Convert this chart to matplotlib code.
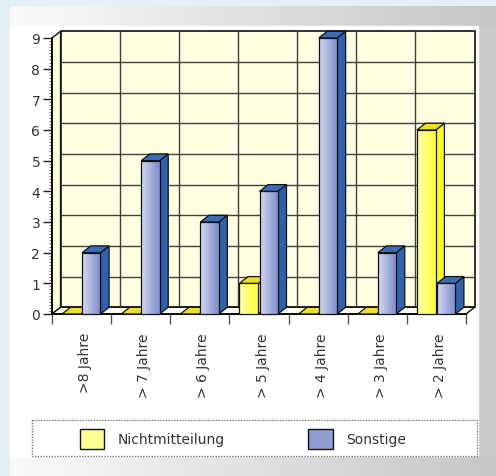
import matplotlib
matplotlib.use("Agg")
import matplotlib.pyplot as plt
import numpy as np
from matplotlib.patches import Polygon, Rectangle, Patch
from matplotlib.ticker import MultipleLocator, FixedLocator

categories = ['>8 Jahre', '> 7 Jahre', '> 6 Jahre', '> 5 Jahre',
              '> 4 Jahre', '> 3 Jahre', '> 2 Jahre']
nichtmitteilung = [0, 0, 0, 1, 0, 0, 6]
sonstige = [2, 5, 3, 4, 9, 2, 1]
series_names = ['Nichtmitteilung', 'Sonstige']

W, H = 496, 477
fig = plt.figure(figsize=(W / 100, H / 100), dpi=100)
fig.patch.set_facecolor('#e3f1f6')

# decorative background in pixel coords
bg = fig.add_axes([0, 0, 1, 1], zorder=-5)
bg.axis('off')
grad = np.linspace(0, 1, 256)[None, :]
gray_cmap = matplotlib.colors.LinearSegmentedColormap.from_list('g', ['#fafafa', '#c6c6c6'])
bg.imshow(grad, cmap=gray_cmap, extent=[10, W, 27, 7], aspect='auto', zorder=1)
bg.imshow(grad, cmap=gray_cmap, extent=[10, W, H, 457], aspect='auto', zorder=1)
bg.add_patch(Rectangle((478, 27), W - 478, 430, color='#cacaca', zorder=2))
bg.add_patch(Rectangle((10, 27), 468, 430, color='white', zorder=2))
bg.add_patch(Rectangle((32, 421), 445, 36, facecolor='white', edgecolor='#7a7a7a',
                       lw=1, ls=(0, (1, 1)), zorder=3))
bg.set_xlim(0, W)
bg.set_ylim(H, 0)

# main plot axes (front plane)
ax = fig.add_axes([52 / W, (H - 315) / H, 414 / W, 276 / H])
n = len(categories)
ymax = 9
ax.set_xlim(0, n)
ax.set_ylim(0, ymax)
ax.patch.set_visible(False)
for s in ['top', 'right']:
    ax.spines[s].set_visible(False)
ax.spines['left'].set_linewidth(1.2)
ax.spines['bottom'].set_linewidth(1.2)

dx, dy = 0.145, 0.22
wall = '#ffffe2'
edge = '#111111'

# left wall, back wall, floor
ax.add_patch(Polygon([(0, 0), (dx, dy), (dx, ymax + dy), (0, ymax)],
                     facecolor='#fdfdd8', edgecolor=edge, lw=1, clip_on=False, zorder=1))
ax.add_patch(Rectangle((dx, dy), n, ymax, facecolor=wall, edgecolor=edge,
                       lw=1.2, clip_on=False, zorder=1))
for k in range(1, ymax):
    ax.plot([dx, n + dx], [k + dy, k + dy], color='#404040', lw=1, zorder=1.5, clip_on=False)
for i in range(1, n):
    ax.plot([i + dx, i + dx], [dy, ymax + dy], color='#404040', lw=1, zorder=1.5, clip_on=False)
ax.add_patch(Polygon([(0, 0), (n, 0), (n + dx, dy), (dx, dy)],
                     facecolor='#fffff2', edgecolor=edge, lw=1, clip_on=False, zorder=2))

blue_front = matplotlib.colors.LinearSegmentedColormap.from_list(
    'b', ['#d4daf0', '#a8b2de', '#7d8cc9'])
yellow_front = matplotlib.colors.LinearSegmentedColormap.from_list(
    'y', ['#ffffb0', '#ffff70', '#ffff30'])
styles = [
    dict(x0=0.17, w=0.32, cmap=yellow_front, side='#ffff10', top='#eee020'),
    dict(x0=0.51, w=0.31, cmap=blue_front, side='#2f62ad', top='#3b6cb8'),
]

z = 3
for i in range(n):
    for vals, st in zip([nichtmitteilung, sonstige], styles):
        h = vals[i]
        x0 = i + st['x0']
        x1 = x0 + st['w']
        if h > 0:
            ax.add_patch(Polygon([(x1, 0), (x1 + dx, dy), (x1 + dx, h + dy), (x1, h)],
                                 facecolor=st['side'], edgecolor=edge, lw=0.9,
                                 clip_on=False, zorder=z))
            ax.imshow(grad, cmap=st['cmap'], extent=[x0, x1, 0, h], aspect='auto',
                      zorder=z + 0.1, clip_on=False)
            ax.add_patch(Rectangle((x0, 0), st['w'], h, fill=False, edgecolor=edge,
                                   lw=0.9, clip_on=False, zorder=z + 0.2))
        ax.add_patch(Polygon([(x0, h), (x1, h), (x1 + dx, h + dy), (x0 + dx, h + dy)],
                             facecolor=st['top'], edgecolor=edge, lw=0.9,
                             clip_on=False, zorder=z + 0.3))
        z += 1

ax.set_xlim(0, n)
ax.set_ylim(0, ymax)

# ticks
ax.yaxis.set_major_locator(MultipleLocator(1))
ax.yaxis.set_minor_locator(MultipleLocator(0.1))
ax.tick_params(axis='y', which='major', length=6.5, width=1, color='#222222',
               labelsize=10, labelcolor='#333333', pad=2)
ax.tick_params(axis='y', which='minor', length=2.5, width=0.6, color='#555555')
ax.xaxis.set_major_locator(FixedLocator(range(n + 1)))
ax.xaxis.set_major_formatter(matplotlib.ticker.NullFormatter())
ax.xaxis.set_minor_locator(FixedLocator([i + 0.56 for i in range(n)]))
ax.xaxis.set_minor_formatter(matplotlib.ticker.FixedFormatter(categories))
ax.tick_params(axis='x', which='major', length=7, width=1, color='#555555')
ax.tick_params(axis='x', which='minor', length=0, pad=13, labelsize=10,
               labelcolor='#333333', labelrotation=90)

# legend
handles = [Patch(facecolor='#ffff90', edgecolor='#111111', lw=1),
           Patch(facecolor='#8f9bd0', edgecolor='#111111', lw=1)]
fig.legend(handles, series_names, loc='center', ncol=2,
           bbox_to_anchor=(243 / W, (H - 440) / H), frameon=False,
           fontsize=10, handlelength=1.75, handleheight=1.75,
           handletextpad=1.0, columnspacing=6.0, labelcolor='#333333')

fig.savefig('out.png', dpi=100, facecolor=fig.get_facecolor())
